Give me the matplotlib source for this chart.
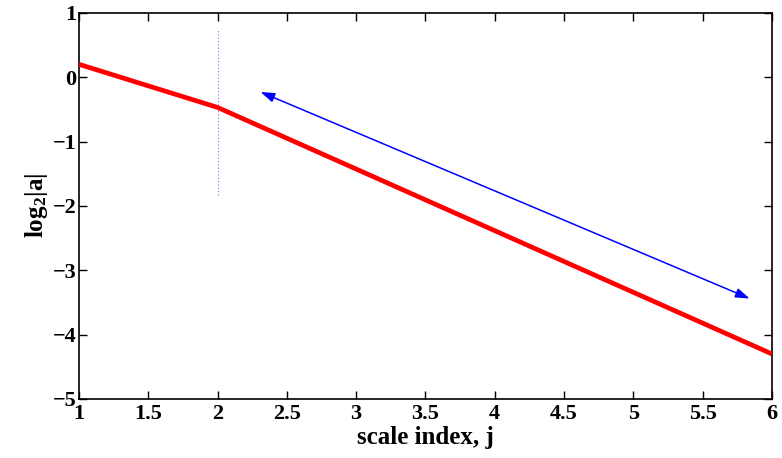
import matplotlib
matplotlib.use("Agg")
import matplotlib.pyplot as plt

# Piecewise-linear decay of log2|a| over scale index
scale_j = [1, 2, 6]
log2_a = [0.2, -0.47, -4.3]

# Vertical marker at the breakpoint
marker_x = 2
marker_y = [-1.83, 0.75]

# Double-headed arrow endpoints (x, y)
arrow_start = (2.31, -0.23)
arrow_end = (5.84, -3.44)

xticks = [1, 1.5, 2, 2.5, 3, 3.5, 4, 4.5, 5, 5.5, 6]
xtick_labels = ["1", "1.5", "2", "2.5", "3", "3.5", "4", "4.5", "5", "5.5", "6"]
yticks = [-5, -4, -3, -2, -1, 0, 1]
ytick_labels = ["\u22125", "\u22124", "\u22123", "\u22122", "\u22121", "0", "1"]

plt.rcParams["font.family"] = ["Liberation Serif", "DejaVu Serif"]
plt.rcParams["font.weight"] = "bold"
plt.rcParams["mathtext.fontset"] = "custom"
plt.rcParams["mathtext.rm"] = "Liberation Serif:bold"
plt.rcParams["mathtext.bf"] = "Liberation Serif:bold"
plt.rcParams["mathtext.it"] = "Liberation Serif:bold"

fig = plt.figure(figsize=(7.82, 4.58), dpi=100)
ax = fig.add_axes([0.101, 0.129, 0.886, 0.843])

ax.plot(scale_j, log2_a, color="#ff0000", lw=3.4, solid_capstyle="butt", zorder=3)
ax.plot([marker_x, marker_x], marker_y, color="#0000ff", lw=0.8, ls=(0, (1, 2)), alpha=0.55)

ax.annotate("", xy=arrow_end, xytext=arrow_start,
            arrowprops=dict(arrowstyle="<|-|>,head_length=0.65,head_width=0.22",
                            color="#0000ff", lw=1.1, shrinkA=0, shrinkB=0,
                            mutation_scale=13))

ax.set_xlim(1, 6)
ax.set_ylim(-5, 1)
ax.set_xticks(xticks)
ax.set_xticklabels(xtick_labels)
ax.set_yticks(yticks)
ax.set_yticklabels(ytick_labels)

ax.tick_params(direction="in", length=6, width=1, top=True, right=True,
               labelsize=16)
ax.tick_params(axis="x", pad=4)
ax.tick_params(axis="y", pad=2)
for lbl in ax.get_xticklabels() + ax.get_yticklabels():
    lbl.set_fontweight("bold")
for sp in ax.spines.values():
    sp.set_linewidth(1.2)

ax.set_xlabel("scale index, j", fontsize=18, fontweight="bold", labelpad=1)
ax.set_ylabel(r"$\mathbf{log}_{\mathbf{2}}\mathbf{|a|}$", fontsize=18, labelpad=2)

fig.savefig("out.png", dpi=100)
